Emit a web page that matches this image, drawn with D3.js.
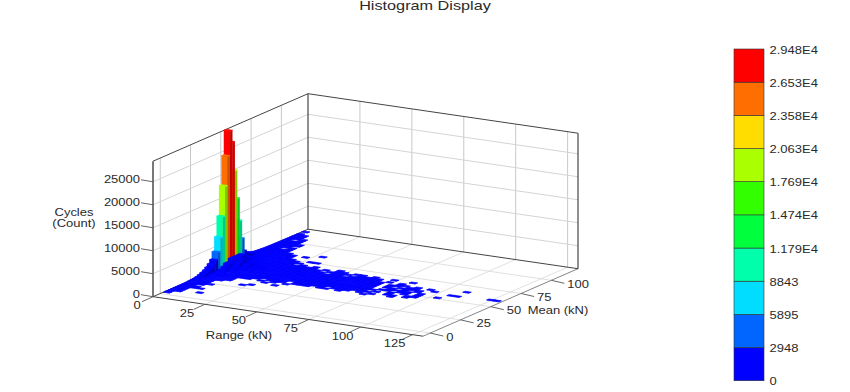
<!DOCTYPE html>
<html>
<head>
<meta charset="utf-8">
<script src="https://cdn.jsdelivr.net/npm/d3@7"></script>
<style>
  body { margin: 0; background: #fff; }
  text { font-family: "Liberation Sans", Arial, sans-serif; font-size: 10px; fill: #2a2a2a; }
</style>
</head>
<body>
<div id="graph"></div>
<script>
const rangeTicks = [25, 50, 75, 100, 125]
const meanTicks = [0, 25, 50, 75, 100]
const countTicks = [5000, 10000, 15000, 20000, 25000]

const bandEdges = [2948, 5895, 8843, 11790, 14740, 17690, 20630, 23580, 26530]
const bandColors = ["#0000ff", "#0066ff", "#00ddff", "#00ffaa", "#00ff3c", "#32ff00", "#aaff00", "#ffdd00", "#ff6e00", "#ff0000"]
const barTicks = [0, 2948, 5895, 8843, 11790, 14740, 17690, 20630, 23580, 26530, 29480]
const barLabels = ["0", "2948", "5895", "8843", "1.179E4", "1.474E4", "1.769E4", "2.063E4", "2.358E4", "2.653E4", "2.948E4"]

// bins: range 3 kN, mean 2 kN
const rangeBin = 3
const meanBin = 2
const meanStart = -5.5

// counts of the first range column (0-3 kN), one per mean bin
const firstColumn = [
  0, 0, 0, 0, 10, 15, 15, 20, 25, 30, 40, 50, 60, 80, 120, 180, 250, 350, 550, 800, 1100, 1500, 2000, 2700,
  4200, 7200, 11500, 17900, 24200, 29480, 26800, 20400, 14100, 9000, 4900, 2000, 1400, 1000, 800, 600, 450,
  350, 300, 250, 200, 170, 140, 120, 100, 90, 80, 70, 60, 50, 40, 35, 30, 25, 20, 15, 0, 15
]

// the other range columns (from 3 kN up), one string per mean bin, digit = index into cellLevels
const cellLevels = [0, 10, 40, 100, 250, 500, 900, 1400, 2000]
const cellRows = [
  "", "", "", "", "", "",
  "1",
  "1..1",
  "1",
  "1",
  "111",
  "21",
  "2",
  "21",
  "211",
  "31",
  "32",
  "32....1",
  "321....1",
  "3211",
  "4321......1",
  "4321....1",
  "432211.1.1.1",
  "4322111.111.111.11.1...1",
  "54322211111.11111.111.1.1..1",
  "643322211111111111111111..11.1",
  "75433222111111111111112.1.1..11",
  "765433222111111111111112..1.1.1",
  "87543322221111111111121.11.11.1..1",
  "88654332222211111111112..1111.1",
  "87654332222111111111122.11.1.1",
  "86543322221111111111221.1.1111....11",
  "85433222221111111111122.11.11..1........11",
  "75433222211111111111211..11.1.1",
  "6433222111111.11.11111.1.1",
  "543322211111.1111.1111.............1",
  "54322211111.1.11.11.1..1..1",
  "4332211.1.1...1",
  "43221111",
  "4322111",
  "432111..11",
  "43211",
  "32211",
  "32211.1",
  "3211",
  "321.....1",
  "221",
  "1.1",
  "221",
  "22",
  "111",
  "121",
  "12",
  "11",
  ".1",
  "11",
  "1",
  "1",
  "1",
  "", "", ""
]

const width = 850
const height = 392
const svg = d3.select("#graph").append("svg")
  .attr("width", width)
  .attr("height", height)
  .style("display", "block")

svg.append("filter").attr("id", "soft")
  .append("feGaussianBlur").attr("stdDeviation", 0.35)

// oblique projection of the 3d box
const originX = 153
const originY = 296.7
const rangeX = d3.scaleLinear().domain([0, 130]).range([0, 270])
const rangeY = d3.scaleLinear().domain([0, 130]).range([0, 39.5])
const meanX = d3.scaleLinear().domain([-6, 122]).range([0, 155])
const meanY = d3.scaleLinear().domain([-6, 122]).range([0, -67.5])
const countY = d3.scaleLinear().domain([0, 29480]).range([0, 135.5])
const color = d3.scaleThreshold().domain(bandEdges).range(bandColors)

const project = (r, m, c = 0) => [
  originX + rangeX(r) + meanX(m),
  originY + rangeY(r) + meanY(m) - countY(c)
]

const chart = svg.append("g").attr("filter", "url(#soft)")

function edge(p, q, stroke, w) {
  chart.append("line")
    .attr("x1", p[0]).attr("y1", p[1])
    .attr("x2", q[0]).attr("y2", q[1])
    .attr("stroke", stroke)
    .attr("stroke-width", w)
}

const rMax = rangeX.domain()[1]
const mMin = meanX.domain()[0]
const mMax = meanX.domain()[1]
const cMax = countY.domain()[1]

// floor grid
rangeTicks.forEach(r => edge(project(r, mMin), project(r, mMax), "#d8d8d8", 0.8))
meanTicks.forEach(m => edge(project(0, m), project(rMax, m), "#d8d8d8", 0.8))

// wall grids
rangeTicks.forEach(r => edge(project(r, mMax), project(r, mMax, cMax), "#c8c8c8", 1))
meanTicks.forEach(m => edge(project(0, m), project(0, m, cMax), "#c8c8c8", 1))
countTicks.forEach(c => {
  edge(project(0, mMin, c), project(0, mMax, c), "#d4d4d4", 1)
  edge(project(0, mMax, c), project(rMax, mMax, c), "#d4d4d4", 1)
})

// box edges
edge(project(0, mMin), project(rMax, mMin), "#444", 1)
edge(project(rMax, mMin), project(rMax, mMax), "#666", 0.8)
edge(project(0, mMax), project(rMax, mMax), "#444", 1)
edge(project(0, mMin), project(0, mMax), "#444", 1)
edge(project(0, mMin), project(0, mMin, cMax), "#222", 1.2)
edge(project(0, mMax), project(0, mMax, cMax), "#444", 1.2)
edge(project(rMax, mMax), project(rMax, mMax, cMax), "#444", 1.2)
edge(project(0, mMin, cMax), project(0, mMax, cMax), "#444", 1)
edge(project(0, mMax, cMax), project(rMax, mMax, cMax), "#444", 1)

// histogram cells
const cells = []
firstColumn.forEach((c, i) => { if (c > 0) cells.push({ j: 0, i: i, count: c }) })
cellRows.forEach((row, i) => {
  row.split("").forEach((ch, k) => {
    if (ch !== ".") cells.push({ j: k + 1, i: i, count: cellLevels[+ch] })
  })
})
cells.sort((a, b) => d3.descending(a.i, b.i) || d3.ascending(a.j, b.j))

const face = pts => pts.map(p => p.join(",")).join(" ")
const bars = chart.append("g").selectAll("g")
  .data(cells)
  .join("g")

const bounds = d => ({
  r0: d.j * rangeBin,
  r1: (d.j + 1) * rangeBin,
  m0: meanStart + d.i * meanBin,
  m1: meanStart + (d.i + 1) * meanBin
})

// front face
bars.append("polygon")
  .attr("points", d => {
    const b = bounds(d)
    return face([project(b.r0, b.m0), project(b.r1, b.m0), project(b.r1, b.m0, d.count), project(b.r0, b.m0, d.count)])
  })
  .attr("fill", d => color(d.count))
  .attr("stroke", d => color(d.count))
  .attr("stroke-width", 0.2)

// side face
bars.append("polygon")
  .attr("points", d => {
    const b = bounds(d)
    return face([project(b.r1, b.m0), project(b.r1, b.m1), project(b.r1, b.m1, d.count), project(b.r1, b.m0, d.count)])
  })
  .attr("fill", d => d3.color(color(d.count)).darker(0.7))

// top
bars.append("polygon")
  .attr("points", d => {
    const b = bounds(d)
    return face([project(b.r0, b.m0, d.count), project(b.r1, b.m0, d.count), project(b.r1, b.m1, d.count), project(b.r0, b.m1, d.count)])
  })
  .attr("fill", d => color(d.count))
  .attr("stroke", d => color(d.count))
  .attr("stroke-width", 0.7)

// ticks
function label(x, y, str, anchor = "middle") {
  return svg.append("text")
    .attr("transform", `translate(${x},${y}) scale(1.3,1)`)
    .attr("text-anchor", anchor)
    .attr("dy", "0.35em")
    .text(str)
}

const shift = (p, dx, dy) => [p[0] + dx, p[1] + dy]

;[0].concat(rangeTicks).forEach(r => {
  const p = project(r, mMin)
  edge(p, shift(p, -11, 5), "#555", 0.9)
  if (r === 0) label(p[0] - 16, p[1] + 8.5, r)
  else label(p[0] - 18, p[1] + 9, r)
})
meanTicks.forEach(m => {
  const p = project(rMax, m)
  edge(p, shift(p, 13, 3), "#555", 0.9)
  label(p[0] + 16, p[1] + 4, m, "start")
})
;[0].concat(countTicks).forEach(c => {
  const p = project(0, mMin, c)
  edge(p, shift(p, -12, -2), "#555", 0.9)
  label(p[0] - 13, p[1] - 2, c, "end")
})

label(425, 5.5, "Histogram Display").style("font-size", "12.5px")
label(74, 212, "Cycles")
label(74, 223, "(Count)")
label(239, 335, "Range (kN)")
label(558, 310, "Mean (kN)")

// colour bar
const barY = d3.scaleLinear().domain([0, 29480]).range([380.7, 49])
const barX = 734
const barW = 30
const bandStops = d3.pairs(barTicks)

svg.append("g").selectAll("rect")
  .data(bandStops)
  .join("rect")
    .attr("x", barX)
    .attr("y", d => barY(d[1]))
    .attr("width", barW)
    .attr("height", d => barY(d[0]) - barY(d[1]))
    .attr("fill", (d, i) => bandColors[i])
    .attr("stroke", "#333")
    .attr("stroke-width", 0.6)

barTicks.forEach((t, i) => {
  label(769.5, barY(t) + 1, barLabels[i], "start")
})
</script>
</body>
</html>
